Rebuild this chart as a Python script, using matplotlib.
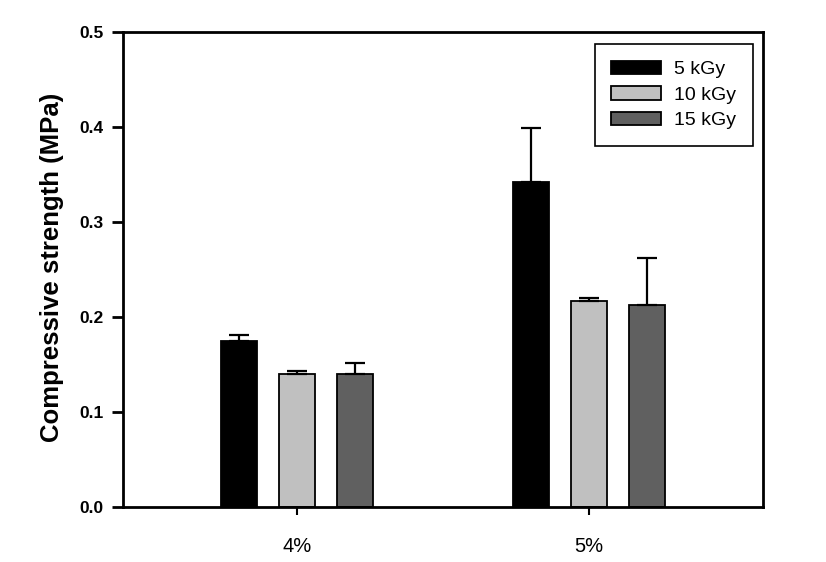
import matplotlib
matplotlib.use("Agg")
import matplotlib.pyplot as plt
import numpy as np

plt.rcParams['font.family'] = ['Liberation Sans', 'DejaVu Sans']

categories = ["4%", "5%"]
series_names = ["5 kGy", "10 kGy", "15 kGy"]
values = {
    "5 kGy": [0.174, 0.342],
    "10 kGy": [0.140, 0.216],
    "15 kGy": [0.140, 0.212],
}
errors = {
    "5 kGy": [0.0065, 0.056],
    "10 kGy": [0.0025, 0.0035],
    "15 kGy": [0.011, 0.050],
}
colors = ["#000000", "#c0c0c0", "#606060"]
yticks = [0.0, 0.1, 0.2, 0.3, 0.4, 0.5]

fig = plt.figure(figsize=(8.26, 5.62), dpi=100)
ax = fig.add_axes([123/826, 1-506.7/562, 640/826, 475.2/562])

x = np.arange(1, len(categories) + 1)
width = 0.123
offsets = [-0.2, 0.0, 0.2]
for name, off, col in zip(series_names, offsets, colors):
    ax.bar(x + off, values[name], width, color=col, edgecolor='black',
           linewidth=1.3, label=name, zorder=2)
    ax.errorbar(x + off, values[name], yerr=[np.zeros(len(x)), errors[name]],
                fmt='none', ecolor='black', elinewidth=1.6, capsize=7,
                capthick=1.6, zorder=3)

ax.set_xlim(0.404, 2.596)
ax.set_ylim(0, 0.5)
ax.set_xticks(x)
ax.set_xticklabels(categories, fontsize=14.5)
ax.set_yticks(yticks)
ax.set_yticklabels([f"{v:.1f}" for v in yticks], fontsize=12.5, fontweight='bold')
for s in ax.spines.values():
    s.set_linewidth(2)
ax.tick_params(axis='y', direction='out', length=8, width=2, pad=6)
ax.tick_params(axis='x', direction='out', length=6, width=1.5, pad=16)

fig.text(52/826, 1-267.5/562, "Compressive strength (MPa)", rotation=90,
         ha='center', va='center', fontsize=18.5, fontweight='bold')

leg = ax.legend(loc='upper right', bbox_to_anchor=((753-123)/640, (506.7-44)/475.2),
                borderaxespad=0, fontsize=14, frameon=True, fancybox=False,
                framealpha=1, edgecolor='black', handlelength=2.58,
                handleheight=0.68, handletextpad=0.67, labelspacing=0.42,
                borderpad=0.85)
leg.get_frame().set_linewidth(1.2)

fig.savefig("out.png", dpi=100)
